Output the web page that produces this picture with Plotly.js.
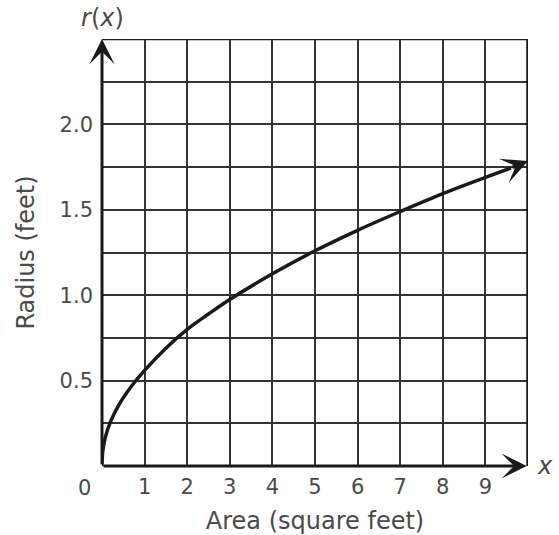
<!DOCTYPE html>
<html>
<head>
<meta charset="utf-8">
<script src="https://cdn.plot.ly/plotly-3.0.1.min.js"></script>
<style>html,body{margin:0;padding:0;background:#fff;}#chart{width:559px;height:535px;}</style>
</head>
<body>
<div id="chart"></div>
<script>
// Area (square feet) and radius (feet)
const areaValues = [0, 0.02, 0.08, 0.2, 0.4, 0.7, 1, 1.5, 2, 2.5, 3, 4, 5, 6, 7, 8, 9, 9.6];
const radiusValues = [0, 0.09, 0.17, 0.26, 0.36, 0.47, 0.56, 0.69, 0.8, 0.89, 0.975, 1.125, 1.26, 1.38, 1.49, 1.595, 1.69, 1.745];
const arrowEnd = [10, 1.785];
const xTickVals = [0, 1, 2, 3, 4, 5, 6, 7, 8, 9, 10];
const xTickText = ['', '1', '2', '3', '4', '5', '6', '7', '8', '9', ''];
const yTickVals = [0, 0.25, 0.5, 0.75, 1, 1.25, 1.5, 1.75, 2, 2.25, 2.5];
const yTickText = ['', '', '0.5', '', '1.0', '', '1.5', '', '2.0', '', ''];

const textColor = '#4a4a4a';
const fam = 'DejaVu Sans, Verdana, sans-serif';
const tickFont = {family: fam, size: 21, color: textColor};
const titleFont = {family: fam, size: 24, color: textColor};
const ink = '#1a1a1a';

const trace = {
  x: areaValues, y: radiusValues, type: 'scatter', mode: 'lines',
  line: {color: ink, width: 3.5, shape: 'spline', smoothing: 1},
  hoverinfo: 'skip', cliponaxis: false
};

const layout = {
  width: 559, height: 535,
  margin: {l: 102, r: 31, t: 39, b: 69},
  paper_bgcolor: '#fff', plot_bgcolor: '#fff',
  showlegend: false,
  font: tickFont,
  xaxis: {
    range: [0, 10], tickvals: xTickVals, ticktext: xTickText,
    showgrid: true, gridcolor: '#333', gridwidth: 2,
    zeroline: false, showline: false, ticks: '', fixedrange: true,
    tickfont: tickFont, ticklabelstandoff: 6,
    title: {text: 'Area (square feet)', font: titleFont, standoff: 14}
  },
  yaxis: {
    range: [0, 2.5], tickvals: yTickVals, ticktext: yTickText,
    showgrid: true, gridcolor: '#333', gridwidth: 2,
    zeroline: false, showline: false, ticks: '', fixedrange: true,
    tickfont: tickFont, ticklabelstandoff: 8,
    title: {text: 'Radius (feet)', font: titleFont, standoff: 18}
  },
  shapes: [
    {type: 'line', xref: 'x', yref: 'y', x0: 0, x1: 10, y0: 2.5, y1: 2.5, line: {color: ink, width: 2.5}},
    {type: 'line', xref: 'x', yref: 'y', x0: 10, x1: 10, y0: 0, y1: 2.5, line: {color: ink, width: 3.5}}
  ],
  annotations: [
    // y axis with arrow
    {xref: 'x', yref: 'y', axref: 'x', ayref: 'y', x: 0, y: 2.5, ax: 0, ay: 0,
     text: '', showarrow: true, arrowhead: 3, arrowsize: 1.4, arrowwidth: 3, arrowcolor: ink, standoff: 0},
    // x axis with arrow
    {xref: 'x', yref: 'y', axref: 'x', ayref: 'y', x: 9.97, y: 0, ax: 0, ay: 0,
     text: '', showarrow: true, arrowhead: 3, arrowsize: 1.4, arrowwidth: 3, arrowcolor: ink, standoff: 0},
    // curve arrow
    {xref: 'x', yref: 'y', axref: 'x', ayref: 'y', x: arrowEnd[0], y: arrowEnd[1],
     ax: areaValues[areaValues.length - 1], ay: radiusValues[radiusValues.length - 1],
     text: '', showarrow: true, arrowhead: 3, arrowsize: 1.25, arrowwidth: 3.5, arrowcolor: ink, standoff: 0},
    {xref: 'paper', yref: 'paper', x: 0, y: 1, xanchor: 'center', yanchor: 'bottom', yshift: 5,
     text: '<i>r</i>(<i>x</i>)', showarrow: false, font: titleFont},
    {xref: 'paper', yref: 'paper', x: 1, y: 0, xanchor: 'left', yanchor: 'middle', xshift: 7,
     text: '<i>x</i>', showarrow: false, font: titleFont},
    {xref: 'paper', yref: 'paper', x: 0, y: 0, xanchor: 'right', yanchor: 'top', xshift: -9, yshift: -8,
     text: '0', showarrow: false, font: tickFont}
  ]
};

Plotly.newPlot('chart', [trace], layout, {displayModeBar: false, staticPlot: true});
</script>
</body>
</html>
